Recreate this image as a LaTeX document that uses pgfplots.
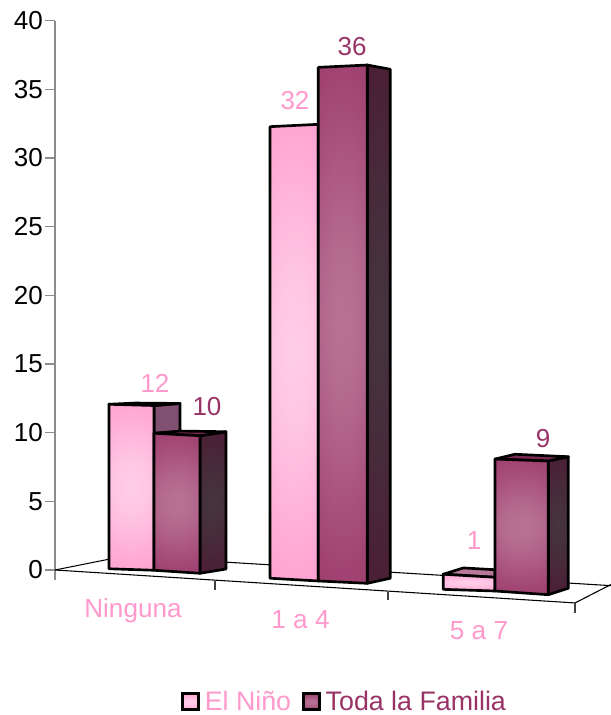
\documentclass[border=0pt]{standalone}
\usepackage{pgfplots}
\usepackage{fontspec}
\setmainfont{Liberation Sans}
\pgfplotsset{compat=1.18}
\definecolor{nino}{HTML}{FF99CC}
\definecolor{familia}{HTML}{993366}
\definecolor{ninoside}{HTML}{805070}
\definecolor{ninotop}{HTML}{B8789A}
\definecolor{familiatop}{HTML}{7A2A52}

% Pillow shadings: pale at the middle of a face, base colour at its borders.
% Stack on entry: x y (both 0..100); t grows towards the centre, with a slight
% top-to-bottom tilt so that the four corners never share one colour.
\newcommand{\pillow}[7]{%
  \pgfdeclarefunctionalshading{#1}{\pgfpointorigin}{\pgfpoint{100bp}{100bp}}{}{%
    50 sub 50 div dup 0.03 mul 3 1 roll
    abs 1 exch sub dup dup mul exch 2 mul 3 exch sub mul dup mul exch
    50 sub 50 div abs dup mul 0.85 mul 1 exch sub mul add
    dup #5 mul #2 add exch dup #6 mul #3 add exch #7 mul #4 add}}
\pillow{ninoface}{1.0}{0.6}{0.8}{0.0}{0.2}{0.11}
\pillow{familiaface}{0.6}{0.2}{0.4}{0.12}{0.24}{0.18}
\pillow{familiaside}{0.3}{0.1}{0.2}{-0.03}{0.1}{0.04}

\pgfplotsset{
  edge/.style={draw=black,line width=2pt,line join=round,mark=none,forget plot},
}
\tikzset{
  val/.style={font=\fontsize{19.5}{21}\selectfont},
  cat/.style={font=\fontsize{19.6}{21}\selectfont,text=nino},
}

\begin{document}
\begin{tikzpicture}
\useasboundingbox (0,0) rectangle (458.25pt,536.25pt);

% Value axis
\begin{axis}[
  at={(41.25pt,101.25pt)},anchor=south west,scale only axis,
  width=1pt,height=419.5pt,
  xmin=0,xmax=1,ymin=-0.73,ymax=40,
  axis x line=none,axis y line=left,
  axis line style={-,draw=gray!90,line width=0.9pt},
  ytick={0,5,...,40},
  tick align=outside,major tick length=7.5pt,
  y tick style={draw=gray!90,line width=0.9pt},
  tick label style={font=\fontsize{19.5}{21}\selectfont},
  /pgf/number format/assume math mode=true,
  yticklabel style={inner sep=0pt,xshift=-1.5pt},
]
\end{axis}

% Floor, bars and labels, in horizontal pixels and value units
\begin{axis}[
  at={(0pt,0pt)},anchor=south west,scale only axis,
  width=458.25pt,height=536.25pt,
  xmin=0,xmax=611,ymin=-10.561,ymax=41.515,
  hide axis,
  legend style={at={(axis cs:180.5,-9.61)},anchor=west,draw=none,fill=none,inner sep=0pt,
    legend columns=2,font=\fontsize{20.1}{22}\selectfont,
    /tikz/every even column/.append style={column sep=7.9pt},
    nodes={inner sep=0pt}},
  legend cell align=left,
]
% floor outline
\addplot[black,line width=0.8pt,mark=none,forget plot] coordinates {(55,0) (575,-2.40) (620,-0.72)};
\addplot[black,line width=0.8pt,mark=none,forget plot] coordinates {(55,0) (125,1.02) (620,-1.18)};
\addplot[gray!50!black,line width=0.8pt,mark=none,forget plot] coordinates {(215,-0.80) (215,-1.46)};
\addplot[gray!50!black,line width=0.8pt,mark=none,forget plot] coordinates {(388,-1.58) (388,-2.18)};
\addplot[gray!50!black,line width=0.8pt,mark=none,forget plot] coordinates {(575,-2.40) (575,-3.11)};

% Ninguna, El Nino
\addplot[edge,fill=ninoside] coordinates {(154,11.98) (180,12.13) (180,10.05) (154,9.96)} -- cycle;
\addplot[edge,fill=ninotop] coordinates {(109,12.07) (154,11.98) (180,12.13) (135,12.16)} -- cycle;
\addplot[edge,shade,shading=ninoface] coordinates {(109,12.07) (154,11.98) (154,-0.02) (109,0.09)} -- cycle;
% Ninguna, Toda la Familia
\addplot[edge,shade,shading=familiaside] coordinates {(200,9.78) (226,10.07) (226,0.07) (200,-0.24)} -- cycle;
\addplot[edge,fill=familiatop] coordinates {(154,9.96) (200,9.78) (226,10.07) (180,10.12)} -- cycle;
\addplot[edge,shade,shading=familiaface] coordinates {(154,9.96) (200,9.78) (200,-0.24) (154,-0.02)} -- cycle;

% 1 a 4, El Nino
\addplot[edge,shade,shading=ninoface] coordinates {(270,32.29) (318.3,32.46) (318.3,-0.80) (270,-0.60)} -- cycle;
% 1 a 4, Toda la Familia
\addplot[edge,shade,shading=familiaside] coordinates {(367.3,36.78) (390.3,36.47) (390.3,-0.60) (367.3,-0.97)} -- cycle;
\addplot[edge,shade,shading=familiaface] coordinates {(318.3,36.61) (367.3,36.78) (367.3,-0.97) (318.3,-0.80)} -- cycle;

% 5 a 7, El Nino
\addplot[edge,fill=ninotop] coordinates {(443.3,-0.31) (495,-0.53) (495,0.02) (463.3,0.15)} -- cycle;
\addplot[edge,shade,shading=ninoface] coordinates {(443.3,-0.31) (495,-0.53) (495,-1.53) (443.3,-1.41)} -- cycle;
% 5 a 7, Toda la Familia
\addplot[edge,shade,shading=familiaside] coordinates {(548.3,7.94) (568.3,8.25) (568.3,-1.33) (548.3,-1.80)} -- cycle;
\addplot[edge,fill=familiatop] coordinates {(495,8.08) (548.3,7.94) (568.3,8.25) (515,8.43)} -- cycle;
\addplot[edge,shade,shading=familiaface] coordinates {(495,8.08) (548.3,7.94) (548.3,-1.80) (495,-1.53)} -- cycle;

% value labels
\node[val,text=nino] at (axis cs:155,13.62) {12};
\node[val,text=familia] at (axis cs:207,11.87) {10};
\node[val,text=nino] at (axis cs:295,34.16) {32};
\node[val,text=familia] at (axis cs:352,38.09) {36};
\node[val,text=nino] at (axis cs:474,2.18) {1};
\node[val,text=familia] at (axis cs:543,9.54) {9};

% category labels
\node[cat] at (axis cs:133,-2.99) {Ninguna};
\node[cat] at (axis cs:300.5,-3.64) {1 a 4};
\node[cat] at (axis cs:479,-4.44) {5 a 7};

% legend
\addlegendimage{legend image code/.code={\path[draw=none] (0pt,0pt) -- (16.9pt,0pt);\draw[black,line width=2.2pt,shade,shading=ninoface] (0pt,-6pt) rectangle (12pt,6pt);}}
\addlegendentry{\textcolor{nino}{El Niño}}
\addlegendimage{legend image code/.code={\path[draw=none] (0pt,0pt) -- (16.9pt,0pt);\draw[black,line width=2.2pt,shade,shading=familiaface] (0pt,-6pt) rectangle (12pt,6pt);}}
\addlegendentry{\textcolor{familia}{Toda la Familia}}
\end{axis}
\end{tikzpicture}
\end{document}
